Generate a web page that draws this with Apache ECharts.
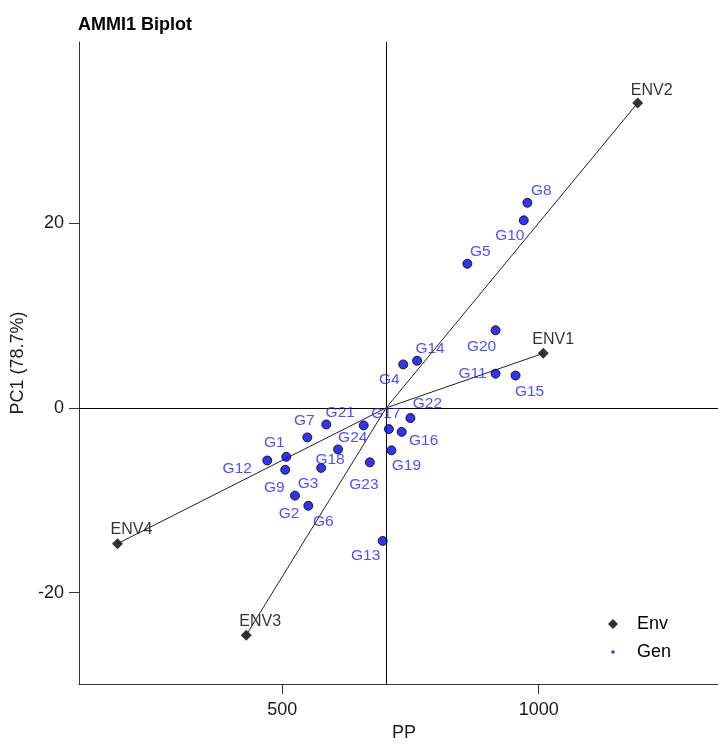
<!DOCTYPE html>
<html>
<head>
<meta charset="utf-8">
<script src="https://cdn.jsdelivr.net/npm/echarts@6/dist/echarts.min.js"></script>
<style>
  html, body { margin: 0; padding: 0; background: #fff; overflow: hidden; }
  #chart { width: 718px; height: 747px; }
</style>
</head>
<body>
<div id="chart"></div>
<script>
// Environment scores: mean PP and PC1
const envNames = ['ENV1', 'ENV2', 'ENV3', 'ENV4'];
const envX = [1009, 1193, 430, 179];
const envY = [5.9, 33.0, -24.6, -14.7];

// Genotype scores: mean PP and PC1
const genNames = ['G1','G2','G3','G4','G5','G6','G7','G8','G9','G10','G11','G12',
                  'G13','G14','G15','G16','G17','G18','G19','G20','G21','G22','G23','G24'];
const genX = [508, 525, 576, 736, 861, 551, 549, 978, 506, 971, 916, 471,
              696, 763, 955, 733, 708, 609, 713, 916, 586, 750, 671, 659];
const genY = [-5.3, -9.5, -6.5, 4.7, 15.6, -10.6, -3.2, 22.2, -6.7, 20.3, 3.7, -5.7,
              -14.4, 5.1, 3.5, -2.6, -2.3, -4.5, -4.6, 8.4, -1.8, -1.1, -5.9, -1.9];

// Tick labels
const xTicks = [500, 1000];
const yTicks = [-20, 0, 20];

// Repelled text placement (pixel offsets from each marker)
const genLabelOffsets = [[-12,-14],[-6,18],[-13,16],[-14,15],[13,-12],[15,16],[-3,-17],[14,-12],
                         [-11,18],[-14,15],[-23,0],[-30,8],[-17,15],[13,-12],[14,16],[22,9],
                         [-3,-15],[-8,10],[15,15],[-14,16],[14,-12],[17,-14],[-6,22],[-11,12]];
const envLabelOffsets = [[10,-14],[14,-12],[14,-14],[14,-14]];

// Grand mean of PP (origin of the environment vectors)
const grandMean = envX.reduce((a, b) => a + b, 0) / envX.length;

const FONT = 'Liberation Sans, Arial, Helvetica, sans-serif';
const GEN_BLUE = '#0000f0';

const chart = echarts.init(document.getElementById('chart'), null, { renderer: 'canvas' });

const envData = envNames.map((n, i) => ({
  name: n,
  value: [envX[i], envY[i]],
  label: { offset: envLabelOffsets[i] }
}));

const genData = genNames.map((n, i) => ({
  name: n,
  value: [genX[i], genY[i]],
  label: { offset: genLabelOffsets[i] }
}));

const vectorLines = envNames.map((n, i) => [
  { coord: [grandMean, 0] },
  { coord: [envX[i], envY[i]] }
]);

const axisCommon = {
  type: 'value',
  splitLine: { show: false },
  axisLine: { show: true, onZero: false, lineStyle: { color: '#333', width: 1 } },
  axisTick: { show: true, length: 10, lineStyle: { color: '#333', width: 1 } },
  axisLabel: { color: '#1a1a1a', fontSize: 18, fontFamily: FONT, formatter: v => String(v) },
  nameTextStyle: { color: '#1a1a1a', fontSize: 18, fontFamily: FONT }
};

chart.setOption({
  animation: false,
  backgroundColor: '#fff',
  title: {
    text: 'AMMI1 Biplot',
    left: 78, top: 16, padding: 0,
    textStyle: { fontFamily: FONT, fontWeight: 'bold', fontSize: 18, color: '#000' }
  },
  grid: { left: 79, right: 0, top: 42, bottom: 57, containLabel: false },
  xAxis: Object.assign({}, axisCommon, {
    min: 104, max: 1349.6,
    name: 'PP', nameLocation: 'middle', nameGap: 38,
    nameTextStyle: Object.assign({}, axisCommon.nameTextStyle, { padding: [0, 0, 0, 11] }),
    axisTick: Object.assign({}, axisCommon.axisTick, { customValues: xTicks }),
    axisLabel: Object.assign({}, axisCommon.axisLabel, { customValues: xTicks, margin: 17 })
  }),
  yAxis: Object.assign({}, axisCommon, {
    min: -29.9, max: 39.6,
    name: 'PC1 (78.7%)', nameLocation: 'middle', nameGap: 44,
    axisTick: Object.assign({}, axisCommon.axisTick, { customValues: yTicks }),
    axisLabel: Object.assign({}, axisCommon.axisLabel, { customValues: yTicks, margin: 15 })
  }),
  legend: {
    orient: 'vertical',
    left: 603, top: 610,
    itemWidth: 10, itemHeight: 10, itemGap: 10,
    textStyle: { fontFamily: FONT, fontSize: 18, color: '#000', padding: [0, 0, 0, 14] },
    data: [
      { name: 'Env', icon: 'diamond', itemStyle: { color: '#000' } },
      { name: 'Gen', icon: 'path://M0,0M20,20M10,6.5A3.5,3.5,0,1,1,10,13.5A3.5,3.5,0,1,1,10,6.5Z',
        itemStyle: { color: GEN_BLUE, borderWidth: 0 } }
    ]
  },
  series: [
    {
      // origin axes through the grand mean and zero PC1
      type: 'scatter',
      data: [],
      silent: true,
      markLine: {
        silent: true,
        symbol: ['none', 'none'],
        label: { show: false },
        lineStyle: { color: '#000', width: 1, type: 'solid' },
        data: [{ xAxis: grandMean }, { yAxis: 0 }]
      }
    },
    {
      name: 'Env',
      type: 'scatter',
      symbol: 'diamond',
      symbolSize: 11,
      itemStyle: { color: '#000' },
      z: 4,
      data: envData,
      label: {
        show: true,
        position: 'inside',
        formatter: '{b}',
        fontFamily: FONT, fontSize: 16, color: '#000',
        align: 'center', verticalAlign: 'middle'
      },
      markLine: {
        silent: true,
        symbol: ['none', 'none'],
        label: { show: false },
        lineStyle: { color: '#222', width: 1, type: 'solid' },
        data: vectorLines
      }
    },
    {
      name: 'Gen',
      type: 'scatter',
      symbol: 'circle',
      symbolSize: 9,
      itemStyle: { color: GEN_BLUE, borderColor: '#000', borderWidth: 1 },
      z: 5,
      data: genData,
      label: {
        show: true,
        position: 'inside',
        formatter: '{b}',
        fontFamily: FONT, fontSize: 15.5, color: '#2323ff',
        align: 'center', verticalAlign: 'middle'
      }
    }
  ]
});
</script>
</body>
</html>
